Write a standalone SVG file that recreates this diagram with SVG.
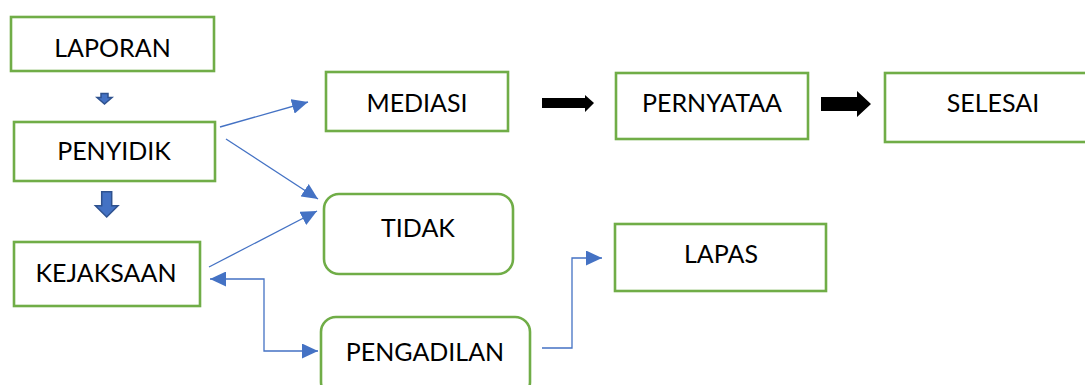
<svg xmlns="http://www.w3.org/2000/svg" width="1085" height="385" viewBox="0 0 1085 385">
<style>
.box{fill:#fff;stroke:#70AD47;stroke-width:2.6}
.lbl{font-family:"Lato","Liberation Sans",sans-serif;font-size:25px;fill:#000;text-anchor:middle}
.con{fill:none;stroke:#4472C4;stroke-width:1.3}
.blk{fill:#000}
.blue{fill:#4472C4;stroke:#2F528F;stroke-width:1.5}
</style>
<defs>
<marker id="ah" markerUnits="userSpaceOnUse" markerWidth="17" markerHeight="15" refX="16" refY="7.5" orient="auto-start-reverse">
<path d="M0,0 L16,7.5 L0,15 Z" fill="#4472C4"/>
</marker>
</defs>
<rect width="1085" height="385" fill="#fff"/>
<g id="laporan"><rect class="box" x="11" y="17" width="203" height="54"/><text class="lbl" x="112.5" y="57">LAPORAN</text></g>
<g id="penyidik"><rect class="box" x="14" y="122" width="201" height="59"/><text class="lbl" x="114" y="160">PENYIDIK</text></g>
<g id="kejaksaan"><rect class="box" x="14" y="242" width="186" height="64"/><text class="lbl" x="106" y="282">KEJAKSAAN</text></g>
<g id="mediasi"><rect class="box" x="326" y="72" width="182" height="59"/><text class="lbl" x="417" y="112">MEDIASI</text></g>
<g id="pernyataa"><rect class="box" x="616" y="73" width="192" height="66"/><text class="lbl" x="712" y="112">PERNYATAA</text></g>
<g id="selesai"><rect class="box" x="885" y="73" width="215" height="69"/><text class="lbl" x="993" y="112">SELESAI</text></g>
<g id="tidak"><rect class="box" x="324" y="194" width="189" height="80" rx="15"/><text class="lbl" x="418" y="237">TIDAK</text></g>
<g id="lapas"><rect class="box" x="615" y="224" width="211" height="67"/><text class="lbl" x="721" y="263">LAPAS</text></g>
<g id="pengadilan"><rect class="box" x="321" y="317" width="209" height="80" rx="15"/><text class="lbl" x="425" y="361">PENGADILAN</text></g>
<g id="connectors">
<path class="blue" d="M101,93.5 H108 V97.5 H112 L104.5,104 L97,97.5 H101 Z" stroke="#203864"/>
<path class="blue" d="M101.7,191.7 H111.7 V205.7 H118 L106.7,217 L95.4,205.7 H101.7 Z" stroke="#203864"/>
<path class="blk" d="M542,98 H585 V95 L594,103 L585,112 V108 H542 Z"/>
<path class="blk" d="M821,97 H857 V91 L871,104 L857,117 V111 H821 Z"/>
<line class="con" x1="220" y1="127" x2="308" y2="102" marker-end="url(#ah)"/>
<line class="con" x1="226" y1="139" x2="318" y2="199" marker-end="url(#ah)"/>
<line class="con" x1="209" y1="267" x2="317" y2="211" marker-end="url(#ah)"/>
<path class="con" d="M210,279 H264 V351 H318" marker-start="url(#ah)" marker-end="url(#ah)"/>
<path class="con" d="M542,348 H572 V258 H602" marker-end="url(#ah)"/>
</g>
</svg>
